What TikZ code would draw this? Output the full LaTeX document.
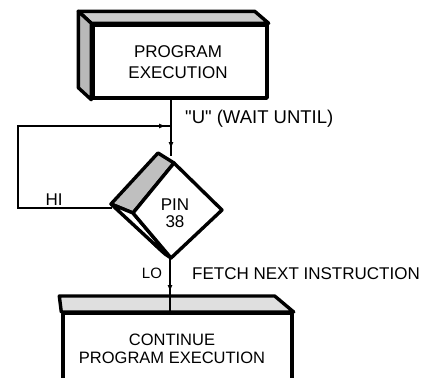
\documentclass[tikz,border=0pt]{standalone}
\usepackage{fontspec}
\setmainfont{Liberation Sans}
\usetikzlibrary{arrows.meta}
\begin{document}
\begin{tikzpicture}[x=1pt,y=-1pt,
  heavy/.style={line width=3.4pt, line join=round},
  face/.style={heavy, draw=black, fill=white, inner sep=0pt},
  topshade/.style={heavy, draw=black, fill=gray!40},
  sideshade/.style={heavy, draw=black, fill=gray!55},
  conn/.style={line width=1.3pt},
  tip/.style={-{Latex[length=7pt,width=5pt]}},
  lbl/.style={font=\fontsize{17}{19}\selectfont, inner sep=0pt},
  boxtxt/.style={font=\fontsize{17}{21}\selectfont, align=center, inner sep=0pt}]
\useasboundingbox (0,0) rectangle (437,378);
\clip (0,0) rectangle (437,378);

% ---- top box
\node[face, minimum width=174pt, minimum height=73pt] (prog) at (180,61.5) {};
\filldraw[topshade] (prog.north west) -- ([shift={(-13,-12)}]prog.north west)
  -- ([shift={(-14,-12)}]prog.north east) -- (prog.north east) -- cycle;
\filldraw[sideshade] (prog.north west) -- ([shift={(-13,-12)}]prog.north west)
  -- ([shift={(-13,-12)}]prog.south west) -- (prog.south west) -- cycle;
\node[boxtxt] (progtxt) at (178,62) {PROGRAM\\EXECUTION};

% ---- bottom box
\node[face, minimum width=229pt, minimum height=90pt, anchor=north] (cont) at (177.5,312) {};
\filldraw[topshade, fill=gray!25] (cont.north west) -- ([shift={(-2,-16)}]cont.north west)
  -- ([shift={(-19,-16)}]cont.north east) -- (cont.north east) -- cycle;
\node[boxtxt, font=\fontsize{16.5}{18}\selectfont] (conttxt) at (172,349) {CONTINUE\\PROGRAM EXECUTION};

% ---- diamond
\coordinate (dT) at (174,163);
\coordinate (dR) at (222,210);
\coordinate (dB) at (171,258);
\coordinate (dL) at (133,213);
\coordinate (dTb) at (158,153);
\coordinate (dLb) at (111,204);
\coordinate (dBb) at (165,254);
\filldraw[heavy, fill=gray!50] (dTb) -- (dT) -- (dL) -- (dLb) -- cycle;
\filldraw[heavy, fill=white] (dLb) -- (dL) -- (dB) -- (dBb) -- cycle;
\draw[line width=0.9pt] ([shift={(4,3)}]dLb) -- ([shift={(-4,-2)}]dBb);
\filldraw[heavy, fill=white] (dT) -- (dR) -- (dB) -- (dL) -- cycle;
\node[boxtxt, font=\fontsize{17}{17}\selectfont] (pin) at (175,213) {PIN\\38};

% ---- connectors
\coordinate (din) at (171,156);
\coordinate (arrA) at (171,149);
\coordinate (dleft) at (112,208);
\coordinate (lbot) at (18,208);
\coordinate (ltop) at (18,126);
\coordinate (jn) at (171,126);
\coordinate (arrB) at (166,126);
\coordinate (dout) at (170,258);
\coordinate (arrC) at (170,292);

\draw[conn] (prog.south -| din) -- (din);
\draw[conn, tip] (prog.south -| din) -- (arrA);
\draw[conn] (dleft) -- (lbot) -- (ltop) -- (jn);
\draw[conn, tip] (ltop) -- (arrB);
\draw[conn] (dout) -- (dout |- cont.north);
\draw[conn, tip] (dout) -- (arrC);

% ---- labels
\node[lbl, font=\fontsize{18.5}{20}\selectfont, anchor=west] (wait) at (185,119) {\textquotedbl U\textquotedbl\ (WAIT UNTIL)};
\node[lbl] (hi) at (54,200) {HI};
\node[lbl, font=\fontsize{15}{17}\selectfont] (lo) at (152,273) {LO};
\node[lbl, anchor=west] (fetch) at (192,274) {FETCH NEXT INSTRUCTION};
\end{tikzpicture}
\end{document}
